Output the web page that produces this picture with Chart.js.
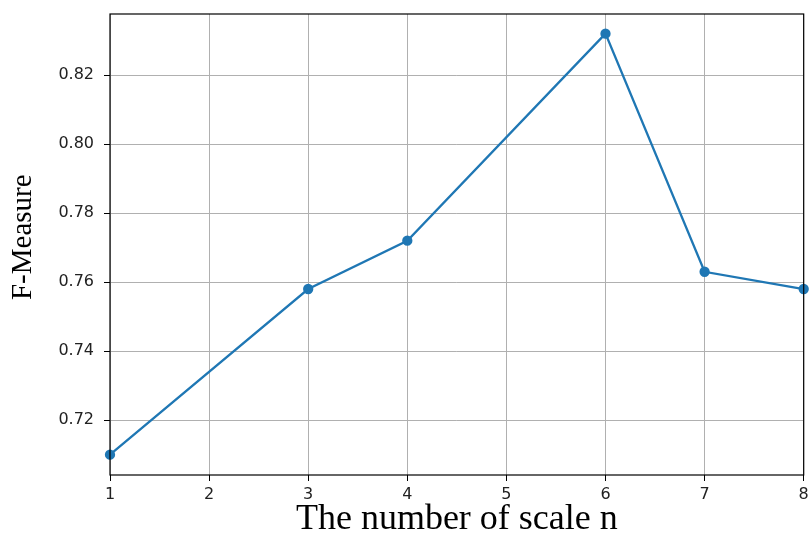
<!DOCTYPE html>
<html lang="en">
<head>
    <meta charset="UTF-8">
    <title>F-Measure vs scale n</title>
    <script src="https://cdn.jsdelivr.net/npm/chart.js"></script>
    <style>
        body { margin: 0; background: #fff; }
    </style>
</head>
<body>
<canvas id="myChart" width="810" height="535"></canvas>
<script>
    // values
    const scaleN = [1, 3, 4, 6, 7, 8];
    const fMeasure = [0.710, 0.758, 0.772, 0.832, 0.763, 0.758];
    const xTicks = [1, 2, 3, 4, 5, 6, 7, 8];
    const yTicks = [0.72, 0.74, 0.76, 0.78, 0.80, 0.82];

    // black box round the plot area (matplotlib style spines)
    const frame = {
        id: 'frame',
        afterDraw(chart) {
            const a = chart.chartArea;
            const c = chart.ctx;
            c.save();
            c.strokeStyle = '#000';
            c.lineWidth = 1.2;
            c.strokeRect(a.left, a.top, a.right - a.left, a.bottom - a.top);
            c.restore();
        }
    };

    const ctx = document.getElementById('myChart').getContext('2d');
    const myChart = new Chart(ctx, {
        type: 'line',
        data: {
            datasets: [{
                data: scaleN.map((x, i) => ({x: x, y: fMeasure[i]})),
                borderColor: '#1f77b4',
                backgroundColor: '#1f77b4',
                borderWidth: 2.3,
                pointRadius: 4,
                pointHoverRadius: 4,
                tension: 0,
                clip: false
            }]
        },
        options: {
            responsive: false,
            animation: false,
            layout: {padding: {left: 0, right: 0, top: 14, bottom: 0}},
            plugins: {legend: {display: false}, tooltip: {enabled: false}},
            scales: {
                x: {
                    type: 'linear',
                    min: 1,
                    max: 8,
                    afterBuildTicks: s => { s.ticks = xTicks.map(v => ({value: v})); },
                    afterFit: s => {
                        s.height = 60;
                        s.paddingLeft = 0;
                        s.paddingRight = 5;
                    },
                    grid: {color: '#b0b0b0', lineWidth: 1, tickColor: '#000', tickLength: 6},
                    border: {display: false},
                    ticks: {
                        color: '#222',
                        padding: 4,
                        maxRotation: 0,
                        font: {family: 'DejaVu Sans', size: 16}
                    },
                    title: {
                        display: true,
                        text: 'The number of scale n',
                        color: '#000',
                        padding: {top: 0, bottom: -3},
                        font: {family: 'Liberation Serif', size: 36, lineHeight: 1}
                    }
                },
                y: {
                    type: 'linear',
                    min: 0.7041,
                    max: 0.8377,
                    afterBuildTicks: s => { s.ticks = yTicks.map(v => ({value: v})); },
                    afterFit: s => {
                        s.width = 110;
                        s.paddingTop = 0;
                        s.paddingBottom = 0;
                    },
                    grid: {color: '#b0b0b0', lineWidth: 1, tickColor: '#000', tickLength: 6},
                    border: {display: false},
                    ticks: {
                        color: '#222',
                        padding: 10,
                        font: {family: 'DejaVu Sans', size: 16},
                        callback: v => v.toFixed(2)
                    },
                    title: {
                        display: true,
                        text: '  F-Measure',
                        color: '#000',
                        padding: {top: 6, bottom: 0},
                        font: {family: 'Liberation Serif', size: 29}
                    }
                }
            }
        },
        plugins: [frame]
    });
</script>
</body>
</html>
